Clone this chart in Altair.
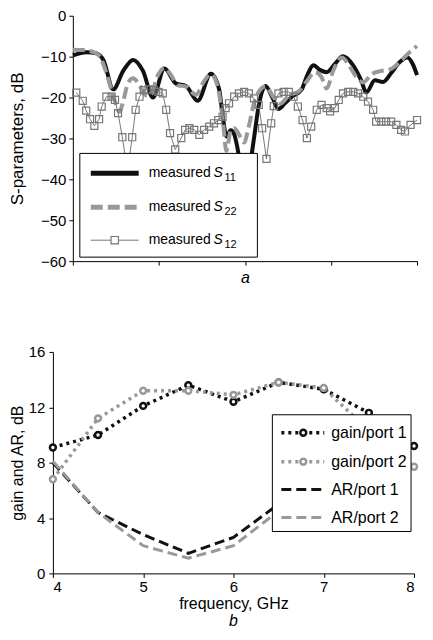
import altair as alt
import pandas as pd

FONT = "Liberation Sans"

# ---------- panel a : S-parameters ----------
s11_f = [2.00, 2.32, 2.55, 2.71, 2.94, 3.17, 3.40, 3.63, 3.86, 4.13, 4.40, 4.63, 4.90, 5.21, 5.40,
         5.49, 5.57, 5.67, 5.75, 5.82, 5.92, 6.02, 6.11, 6.21, 6.32, 6.48, 6.63, 6.78, 6.94, 7.09,
         7.32, 7.45, 7.59, 7.75, 7.90, 8.09, 8.28, 8.52, 8.71, 8.82, 9.02, 9.21, 9.40, 9.59, 9.78,
         9.90, 10.00]
s11_db = [-9.7, -8.9, -9.2, -10.8, -18.0, -13.5, -10.8, -13.5, -20.0, -12.9, -16.6, -17.2, -20.8, -14.2, -18.0,
          -25.0, -29.5, -28.0, -29.0, -32.0, -38.0, -41.0, -37.0, -30.0, -22.0, -17.2, -19.8, -22.8, -21.3, -19.8,
          -18.0, -14.5, -12.1, -13.3, -13.8, -11.8, -9.9, -12.2, -16.0, -18.8, -15.8, -16.2, -14.0, -11.4, -10.2,
          -11.8, -14.5]

s22_f = [2.00, 2.25, 2.48, 2.63, 2.78, 2.98, 3.08, 3.18, 3.28, 3.40, 3.55, 3.71, 3.82, 3.98, 4.13,
         4.28, 4.44, 4.63, 4.86, 5.05, 5.21, 5.36, 5.48, 5.57, 5.67, 5.75, 5.86, 5.98, 6.09, 6.25,
         6.48, 6.67, 6.82, 7.02, 7.25, 7.44, 7.63, 7.78, 7.90, 8.05, 8.25, 8.44, 8.59, 8.75, 8.94,
         9.17, 9.40, 9.63, 9.82, 10.00]
s22_db = [-8.3, -8.4, -8.9, -10.0, -14.0, -21.0, -23.5, -20.5, -16.5, -15.3, -17.0, -19.5, -19.0, -14.5, -12.7,
          -14.5, -17.0, -17.3, -19.3, -16.0, -14.3, -17.0, -25.0, -33.0, -28.0, -27.5, -29.0, -31.0, -27.0, -20.0,
          -17.3, -20.0, -21.5, -19.5, -18.5, -16.0, -13.8, -15.0, -17.8, -13.5, -10.2, -12.5, -15.0, -16.3, -14.3,
          -13.5, -13.0, -11.0, -9.0, -7.4]

s12_f = [2.08, 2.23, 2.31, 2.40, 2.50, 2.61, 2.67, 2.78, 2.90, 2.98,
         3.05, 3.15, 3.27, 3.38, 3.46, 3.55, 3.65, 3.76, 3.88, 3.99,
         4.09, 4.17, 4.26, 4.38, 4.52, 4.61, 4.71, 4.82, 4.94, 5.05,
         5.17, 5.28, 5.38, 5.48, 5.55, 5.63, 5.75, 5.86, 5.98, 6.09,
         6.21, 6.32, 6.40, 6.50, 6.61, 6.67, 6.78, 6.90, 7.02, 7.13,
         7.23, 7.34, 7.44, 7.54, 7.67, 7.78, 7.90, 7.98, 8.09, 8.18,
         8.28, 8.40, 8.52, 8.63, 8.75, 8.86, 8.98, 9.05, 9.17, 9.28,
         9.40, 9.52, 9.63, 9.72, 9.85, 10.00]
s12_db = [-18.8, -20.8, -23.2, -25.3, -26.9, -25.3, -22.2, -19.8, -19.8, -20.6,
          -23.8, -29.7, -38.0, -29.7, -23.0, -19.8, -18.2, -18.0, -18.2, -18.6,
          -19.0, -23.0, -28.7, -32.7, -29.9, -27.9, -27.5, -27.9, -29.1, -27.9,
          -27.1, -26.3, -25.5, -24.7, -22.6, -21.4, -19.8, -19.0, -18.6, -19.0,
          -20.2, -21.8, -27.5, -35.0, -26.3, -22.1, -19.0, -18.6, -18.6, -19.8,
          -22.2, -25.5, -29.9, -27.1, -23.0, -21.8, -22.6, -23.4, -22.6, -20.6,
          -19.0, -18.6, -18.6, -19.0, -19.8, -21.0, -23.0, -25.9, -25.9, -25.9,
          -25.9, -26.7, -27.9, -28.3, -26.7, -25.5]

s_ticks = [-60, -50, -40, -30, -20, -10, 0]
fa_ticks = [2, 4, 6, 8, 10]

# ---------- panel b : gain and AR ----------
freq = [4, 4.5, 5, 5.5, 6, 6.5, 7, 7.5, 8]
gain1 = [9.1, 10.0, 12.1, 13.6, 12.4, 13.8, 13.3, 11.6, 9.2]
gain2 = [6.8, 11.2, 13.2, 13.2, 12.9, 13.8, 13.4, 10.3, 7.7]
ar_f = [4, 4.5, 5, 5.5, 6, 6.5, 7, 7.5]
ar1 = [8.0, 4.4, 2.8, 1.45, 2.6, 5.0, 6.5, 8.0]
ar2 = [8.1, 4.4, 2.0, 1.1, 2.0, 4.5, 6.0, 7.5]
g_ticks = [0, 4, 8, 12, 16]
fb_ticks = [4, 5, 6, 7, 8]

one = pd.DataFrame({"k": [0]})


def txt(x, y, s, size=14, style="normal"):
    return alt.Chart(one).mark_text(text=s, align="left", baseline="middle", font=FONT,
                                    fontSize=size, fontStyle=style, color="black").encode(
        x=alt.value(x), y=alt.value(y))


def hrule(x1, x2, y, color, width, dash=None):
    kw = dict(color=color, strokeWidth=width)
    if dash:
        kw["strokeDash"] = dash
    return alt.Chart(one).mark_rule(**kw).encode(x=alt.value(x1), x2=alt.value(x2), y=alt.value(y))


def sym(x, y, shape, color, size, width):
    return alt.Chart(one).mark_point(shape=shape, filled=True, fill="white", stroke=color,
                                     strokeWidth=width, size=size, opacity=1).encode(
        x=alt.value(x), y=alt.value(y))


def box(x1, x2, y1, y2):
    return alt.Chart(one).mark_rect(fill="white", stroke="black", strokeWidth=1).encode(
        x=alt.value(x1), x2=alt.value(x2), y=alt.value(y1), y2=alt.value(y2))


# ----- top chart (plot area shifted right inside its group) -----
SH = 20
TW, TH = 345, 246
xa = alt.X("f:Q", scale=alt.Scale(domain=[2, 10], nice=False, range=[SH, SH + TW]),
           axis=alt.Axis(values=fa_ticks, labels=False, tickSize=4, title="a",
                         titleFontStyle="italic", titleFontSize=16, titlePadding=4))
ya = alt.Y("db:Q", scale=alt.Scale(domain=[-60, 0], nice=False),
           axis=alt.Axis(values=s_ticks, tickSize=4, labelPadding=3, labelFontSize=15, offset=-SH,
                         title="S-parameters, dB", titleFontSize=17, titlePadding=14))

d11 = pd.DataFrame({"f": s11_f, "db": s11_db})
d22 = pd.DataFrame({"f": s22_f, "db": s22_db})
d12 = pd.DataFrame({"f": s12_f, "db": s12_db})

l11 = alt.Chart(d11).mark_line(color="#111111", strokeWidth=4, interpolate="monotone").encode(x=xa, y=ya)
l22 = alt.Chart(d22).mark_line(color="#999999", strokeWidth=4, strokeDash=[12, 5],
                               interpolate="monotone").encode(x=xa, y=ya)
l12 = alt.Chart(d12).mark_line(color="#555555", strokeWidth=0.8).encode(x=xa, y=ya)
p12 = alt.Chart(d12).mark_point(shape="square", filled=False, color="#777777", strokeWidth=1.2,
                                size=50, opacity=1).encode(x=xa, y=ya)

leg_a = [
    box(SH + 7, SH + 185, 138, 242),
    hrule(SH + 18, SH + 66, 158, "#111111", 5),
    txt(SH + 76, 158, "measured"), txt(SH + 141, 158, "S", style="italic"),
    txt(SH + 152, 163, "11", size=11),
    hrule(SH + 18, SH + 66, 192, "#999999", 5, [12, 5]),
    txt(SH + 76, 192, "measured"), txt(SH + 141, 192, "S", style="italic"),
    txt(SH + 152, 197, "22", size=11),
    hrule(SH + 18, SH + 66, 225, "#555555", 0.8),
    sym(SH + 42, 225, "square", "#777777", 55, 1.2),
    txt(SH + 76, 225, "measured"), txt(SH + 141, 225, "S", style="italic"),
    txt(SH + 152, 230, "12", size=11),
]

top = alt.layer(l11, l22, l12, p12, *leg_a).properties(width=SH + TW, height=TH)

# ----- bottom chart -----
BW, BH = 362, 222
xb = alt.X("f:Q", scale=alt.Scale(domain=[4, 8], nice=False),
           axis=alt.Axis(values=fb_ticks, tickSize=4, labelPadding=2, labelFontSize=15,
                         title="frequency, GHz", titleFontSize=16, titlePadding=1))
yb = alt.Y("v:Q", scale=alt.Scale(domain=[0, 16], nice=False),
           axis=alt.Axis(values=g_ticks, tickSize=4, labelPadding=4, labelFontSize=15,
                         title="gain and AR, dB", titleFontSize=16, titlePadding=3))

dg1 = pd.DataFrame({"f": freq, "v": gain1})
dg2 = pd.DataFrame({"f": freq, "v": gain2})
da1 = pd.DataFrame({"f": ar_f, "v": ar1})
da2 = pd.DataFrame({"f": ar_f, "v": ar2})

lg1 = alt.Chart(dg1).mark_line(color="#111111", strokeWidth=3.5, strokeDash=[3, 4]).encode(x=xb, y=yb)
lg2 = alt.Chart(dg2).mark_line(color="#999999", strokeWidth=3.5, strokeDash=[3, 4]).encode(x=xb, y=yb)
la1 = alt.Chart(da1).mark_line(color="#111111", strokeWidth=3, strokeDash=[10, 5]).encode(x=xb, y=yb)
la2 = alt.Chart(da2).mark_line(color="#999999", strokeWidth=3, strokeDash=[10, 5]).encode(x=xb, y=yb)
pg1 = alt.Chart(dg1).mark_point(shape="circle", filled=True, fill="white", stroke="#111111",
                                strokeWidth=2.5, size=35, opacity=1).encode(x=xb, y=yb)
pg2 = alt.Chart(dg2).mark_point(shape="circle", filled=True, fill="white", stroke="#999999",
                                strokeWidth=2.5, size=35, opacity=1).encode(x=xb, y=yb)

LX = 220
leg_b = [
    box(LX, LX + 139, 63, 180),
    hrule(LX + 9, LX + 52, 81, "#111111", 3.5, [3, 4]), sym(LX + 31, 81, "circle", "#111111", 35, 2.5),
    txt(LX + 59, 81, "gain/port 1", size=16),
    hrule(LX + 9, LX + 52, 110, "#999999", 3.5, [3, 4]), sym(LX + 31, 110, "circle", "#999999", 35, 2.5),
    txt(LX + 59, 110, "gain/port 2", size=16),
    hrule(LX + 9, LX + 52, 138, "#111111", 3, [10, 5]),
    txt(LX + 59, 138, "AR/port 1", size=16),
    hrule(LX + 9, LX + 52, 166, "#999999", 3, [10, 5]),
    txt(LX + 59, 166, "AR/port 2", size=16),
]

bottom = alt.layer(la1, la2, lg1, lg2, pg1, pg2, *leg_b).properties(
    width=BW, height=BH,
    title=alt.TitleParams("b", orient="bottom", fontStyle="italic", fontWeight="normal",
                          fontSize=16, font=FONT, offset=2))

chart = alt.vconcat(top, bottom, spacing=59).properties(
    padding={"left": 0, "top": 0, "right": 0, "bottom": 0}
).configure_view(stroke=None).configure_axis(
    grid=False, domainColor="black", tickColor="black", labelColor="black", titleColor="black",
    labelFont=FONT, titleFont=FONT, titleFontWeight="normal", domainWidth=1, tickWidth=1
).configure_title(color="black")

chart.save("out.html", embed_options={"renderer": "svg", "actions": False})
